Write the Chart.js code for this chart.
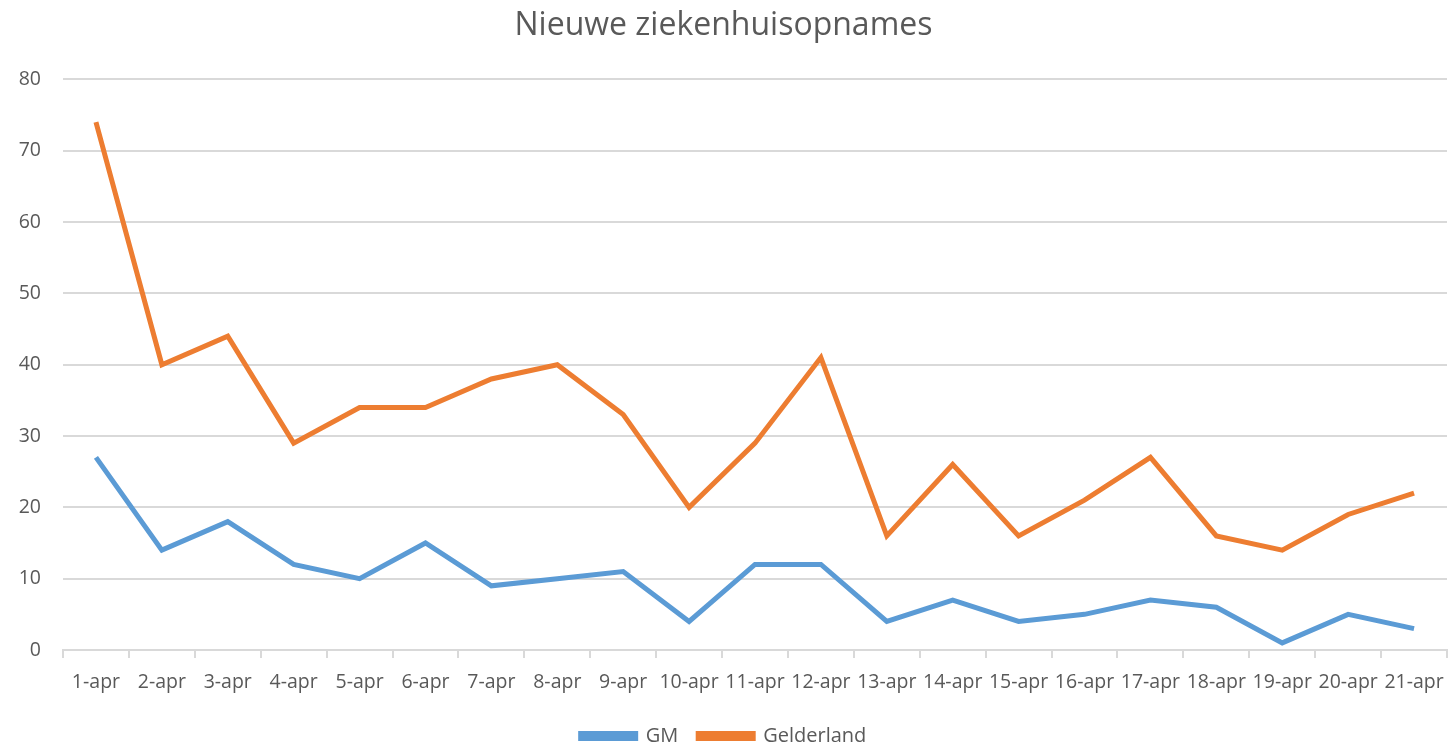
<!DOCTYPE html>
<html><head><meta charset="utf-8">
<script src="https://cdn.jsdelivr.net/npm/chart.js@4"></script>
<style>html,body{margin:0;padding:0;background:#fff}#w{width:1450px;height:746px}</style>
</head><body><div id="w"><canvas id="c"></canvas></div>
<script>
const categories = ["1-apr","2-apr","3-apr","4-apr","5-apr","6-apr","7-apr","8-apr","9-apr","10-apr","11-apr","12-apr","13-apr","14-apr","15-apr","16-apr","17-apr","18-apr","19-apr","20-apr","21-apr"];
const gm = [27,14,18,12,10,15,9,10,11,4,12,12,4,7,4,5,7,6,1,5,3];
const gelderland = [74,40,44,29,34,34,38,40,33,20,29,41,16,26,16,21,27,16,14,19,22];
const yTicks = [0,10,20,30,40,50,60,70,80];
const FONT = "'Open Sans', sans-serif";
const TXT = "#595959";
new Chart(document.getElementById('c'), {
  type: 'line',
  data: { labels: categories, datasets: [
    { label: 'GM', data: gm, borderColor: '#5B9BD5', backgroundColor: '#5B9BD5', borderWidth: 5, pointRadius: 0, tension: 0 },
    { label: 'Gelderland', data: gelderland, borderColor: '#ED7D31', backgroundColor: '#ED7D31', borderWidth: 5, pointRadius: 0, tension: 0 }
  ]},
  options: {
    responsive: true, maintainAspectRatio: false, animation: false,
    layout: { padding: { left: 0, right: 3, top: 7, bottom: -10 } },
    plugins: {
      title: { display: true, text: 'Nieuwe ziekenhuisopnames', color: TXT, font: { family: FONT, size: 32, weight: 'normal' }, padding: { top: 0, bottom: 34 } },
      legend: { position: 'bottom', labels: { color: TXT, font: { family: FONT, size: 20 }, boxWidth: 55, boxHeight: 5, padding: 20 } },
      tooltip: { enabled: false }
    },
    scales: {
      x: {
        offset: true,
        grid: { offset: true, drawOnChartArea: false, drawTicks: true, tickLength: 8, color: '#d9d9d9', lineWidth: 2 },
        border: { color: '#d9d9d9', width: 2 },
        ticks: { color: TXT, font: { family: FONT, size: 19.5 }, maxRotation: 0, autoSkip: false, padding: 13 },
        afterFit: s => { s.height = 56; s.paddingLeft = 0; s.paddingRight = 0; }
      },
      y: {
        min: 0, max: 80,
        afterBuildTicks: s => { s.ticks = yTicks.map(v => ({ value: v })); },
        grid: { color: '#d9d9d9', lineWidth: 2, drawTicks: false },
        border: { display: false },
        ticks: { color: TXT, font: { family: FONT, size: 19.5 }, padding: 22 },
        afterFit: s => { s.width = 63; s.paddingTop = 0; s.paddingBottom = 0; }
      }
    }
  }
});
</script></body></html>
